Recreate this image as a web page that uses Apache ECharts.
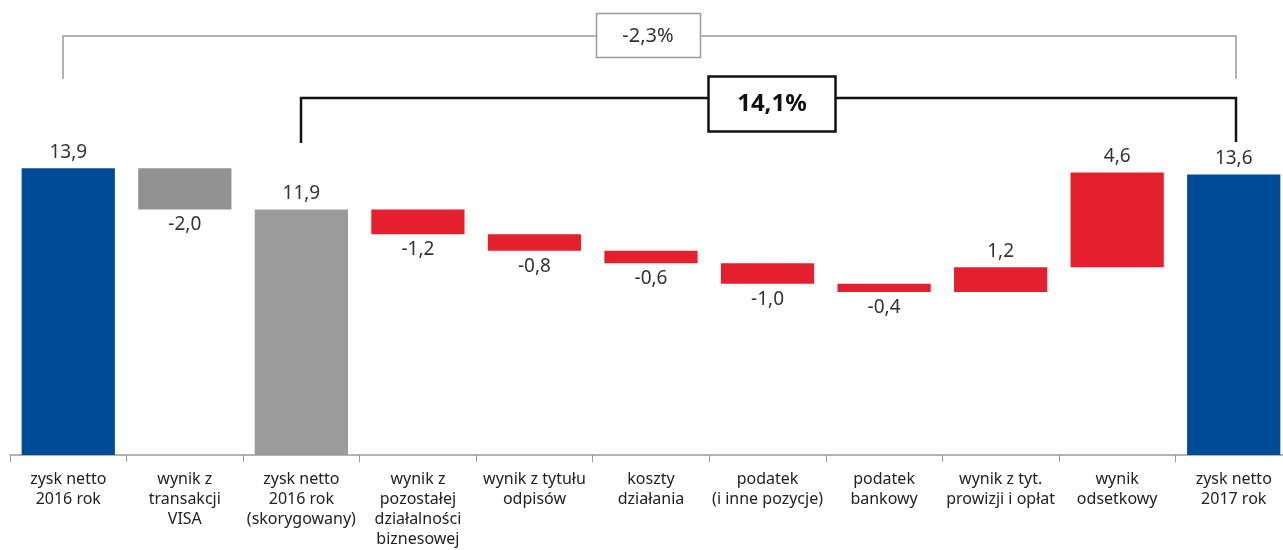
<!DOCTYPE html>
<html>
<head>
<meta charset="utf-8">
<script src="https://cdn.jsdelivr.net/npm/echarts@6/dist/echarts.min.js"></script>
<style>
  html, body { margin: 0; padding: 0; background: #fff; }
  #chart { width: 1283px; height: 550px; }
</style>
</head>
<body>
<div id="chart"></div>
<script>
// kategorie osi X
var categories = [
    'zysk netto\n2016 rok',
    'wynik z\ntransakcji\nVISA',
    'zysk netto\n2016 rok\n(skorygowany)',
    'wynik z\npozostałej\ndziałalności\nbiznesowej',
    'wynik z tytułu\nodpisów',
    'koszty\ndziałania',
    'podatek\n(i inne pozycje)',
    'podatek\nbankowy',
    'wynik z tyt.\nprowizji i opłat',
    'wynik\nodsetkowy',
    'zysk netto\n2017 rok'
];
// wartości (mld zł)
var values = [13.9, -2.0, 11.9, -1.2, -0.8, -0.6, -1.0, -0.4, 1.2, 4.6, 13.6];
// rodzaj słupka: suma / korekta / zmiana
var kinds = ['total', 'adjust', 'adjTotal', 'change', 'change', 'change', 'change', 'change', 'change', 'change', 'total'];
// opisy klamer
var bracketLabels = ['-2,3%', '14,1%'];

var kindColor = {
    total: '#004b98',
    adjust: '#929292',
    adjTotal: '#9b9b9b',
    change: '#e4202e'
};

function fmt(v) {
    return v.toFixed(1).replace('.', ',');
}

// liczenie podstaw dla wykresu kaskadowego
var baseData = [];
var barData = [];
var running = 0;
for (var i = 0; i < values.length; i++) {
    var v = values[i];
    var base, h;
    if (kinds[i] == 'total' || kinds[i] == 'adjTotal') {
        base = 0;
        h = v;
        running = v;
    } else {
        if (v < 0) {
            base = running + v;
            h = -v;
        } else {
            base = running;
            h = v;
        }
        running += v;
    }
    baseData.push(base);
    barData.push({
        value: h,
        itemStyle: { color: kindColor[kinds[i]] },
        label: {
            position: v < 0 ? 'bottom' : 'top',
            formatter: fmt(v)
        }
    });
}

var myChart = echarts.init(document.getElementById('chart'));

var option = {
    animation: false,
    textStyle: { fontFamily: 'Noto Sans' },
    grid: {
        left: 10,
        right: -9,
        top: 125,
        bottom: 95,
        outerBoundsMode: 'none',
        containLabel: false
    },
    xAxis: {
        type: 'category',
        data: categories,
        axisLine: { lineStyle: { color: '#9a9a9a', width: 1.5 } },
        axisTick: { show: true, length: 7, lineStyle: { color: '#9a9a9a' } },
        axisLabel: {
            interval: 0,
            color: '#222',
            fontSize: 16,
            lineHeight: 20,
            margin: 14
        }
    },
    yAxis: {
        type: 'value',
        min: 0,
        max: 16,
        show: false,
        splitLine: { show: false }
    },
    series: [
        {
            type: 'bar',
            stack: 'w',
            data: baseData,
            itemStyle: { color: 'transparent' },
            silent: true,
            barCategoryGap: '20%'
        },
        {
            type: 'bar',
            stack: 'w',
            data: barData,
            barCategoryGap: '20%',
            label: {
                show: true,
                color: '#333',
                fontSize: 19,
                distance: 6
            }
        }
    ],
    graphic: [
        // szara klamra
        {
            type: 'polyline',
            shape: { points: [[63, 79], [63, 36], [1236, 36], [1236, 79]] },
            style: { stroke: '#9a9a9a', lineWidth: 1.5, fill: null }
        },
        {
            type: 'rect',
            shape: { x: 596.5, y: 13.5, width: 104, height: 44 },
            style: { fill: '#fff', stroke: '#9a9a9a', lineWidth: 1.5 }
        },
        {
            type: 'text',
            x: 648, y: 36,
            style: {
                text: bracketLabels[0], fill: '#333', font: '20px "Noto Sans"',
                align: 'center', verticalAlign: 'middle'
            }
        },
        // czarna klamra
        {
            type: 'polyline',
            shape: { points: [[301, 143], [301, 98], [1236, 98], [1236, 142]] },
            style: { stroke: '#111', lineWidth: 2.5, fill: null }
        },
        {
            type: 'rect',
            shape: { x: 708.5, y: 76.5, width: 127, height: 55 },
            style: { fill: '#fff', stroke: '#111', lineWidth: 2.5 }
        },
        {
            type: 'text',
            x: 772, y: 104,
            style: {
                text: bracketLabels[1], fill: '#111', font: 'bold 24px "Noto Sans"',
                align: 'center', verticalAlign: 'middle'
            }
        }
    ]
};

myChart.setOption(option);
</script>
</body>
</html>
